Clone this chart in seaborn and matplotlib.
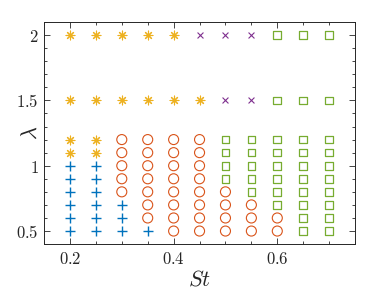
import matplotlib
matplotlib.use("Agg")
import matplotlib.pyplot as plt
import seaborn as sns
import pandas as pd
from matplotlib.ticker import MultipleLocator, FuncFormatter

# St values (columns) and lambda values (rows)
st = [0.2, 0.25, 0.3, 0.35, 0.4, 0.45, 0.5, 0.55, 0.6, 0.65, 0.7]
lam = [0.5, 0.6, 0.7, 0.8, 0.9, 1.0, 1.1, 1.2, 1.5, 2.0]

# regime per (lambda, St): + blue cross, * star, o circle, s square, x purple x
regime_rows = [
    "++++oooooss",  # 0.5
    "+++ooooooss",  # 0.6
    "+++ooooosss",  # 0.7
    "++ooooossss",  # 0.8
    "++oooosssss",  # 0.9
    "++oooosssss",  # 1.0
    "**oooosssss",  # 1.1
    "**oooosssss",  # 1.2
    "******xxsss",  # 1.5
    "*****xxxsss",  # 2.0
]

rows = []
for y, codes in zip(lam, regime_rows):
    for x, c in zip(st, codes):
        rows.append({"St": x, "lam": y, "regime": c})
df = pd.DataFrame(rows)

sns.set_style("ticks")
plt.rcParams["mathtext.fontset"] = "cm"

fig = plt.figure(figsize=(3.83, 3.01), dpi=100)
ax = fig.add_axes([0.115, 0.189, 0.812, 0.738])

styles = {
    "+": dict(marker="+", color="#0072BD", s=50, linewidth=1.0),
    "*": dict(marker=(8, 2, 0), color="#EDB120", s=40, linewidth=0.8),
    "o": dict(marker="o", facecolor="none", edgecolor="#D95319", s=52, linewidth=0.8),
    "s": dict(marker="s", facecolor="none", edgecolor="#77AC30", s=30, linewidth=0.9),
    "x": dict(marker="x", color="#7E2F8E", s=18, linewidth=0.8),
}
for code, kw in styles.items():
    sub = df[df["regime"] == code]
    sns.scatterplot(data=sub, x="St", y="lam", ax=ax, legend=False, **kw)

ax.set_xlim(0.15, 0.75)
ax.set_ylim(0.4, 2.1)
ax.xaxis.set_major_locator(MultipleLocator(0.2))
ax.xaxis.set_minor_locator(MultipleLocator(0.05))
ax.yaxis.set_major_locator(MultipleLocator(0.5))
ax.yaxis.set_minor_locator(MultipleLocator(0.1))
fmt = FuncFormatter(lambda v, p: "$%g$" % round(v, 2))
ax.xaxis.set_major_formatter(fmt)
ax.yaxis.set_major_formatter(fmt)
ax.tick_params(which="both", direction="in", top=True, right=True, labelsize=12,
               width=0.6, colors="#262626")
ax.tick_params(which="major", length=4, pad=4)
ax.tick_params(which="minor", length=2.5)
for sp in ax.spines.values():
    sp.set_linewidth(0.7)
    sp.set_color("#262626")

ax.set_xlabel("$St$", fontsize=16, labelpad=1)
ax.set_ylabel("$\\lambda$", fontsize=16)
ax.yaxis.set_label_coords(-0.012, 0.5)

fig.savefig("out.png", dpi=100)
